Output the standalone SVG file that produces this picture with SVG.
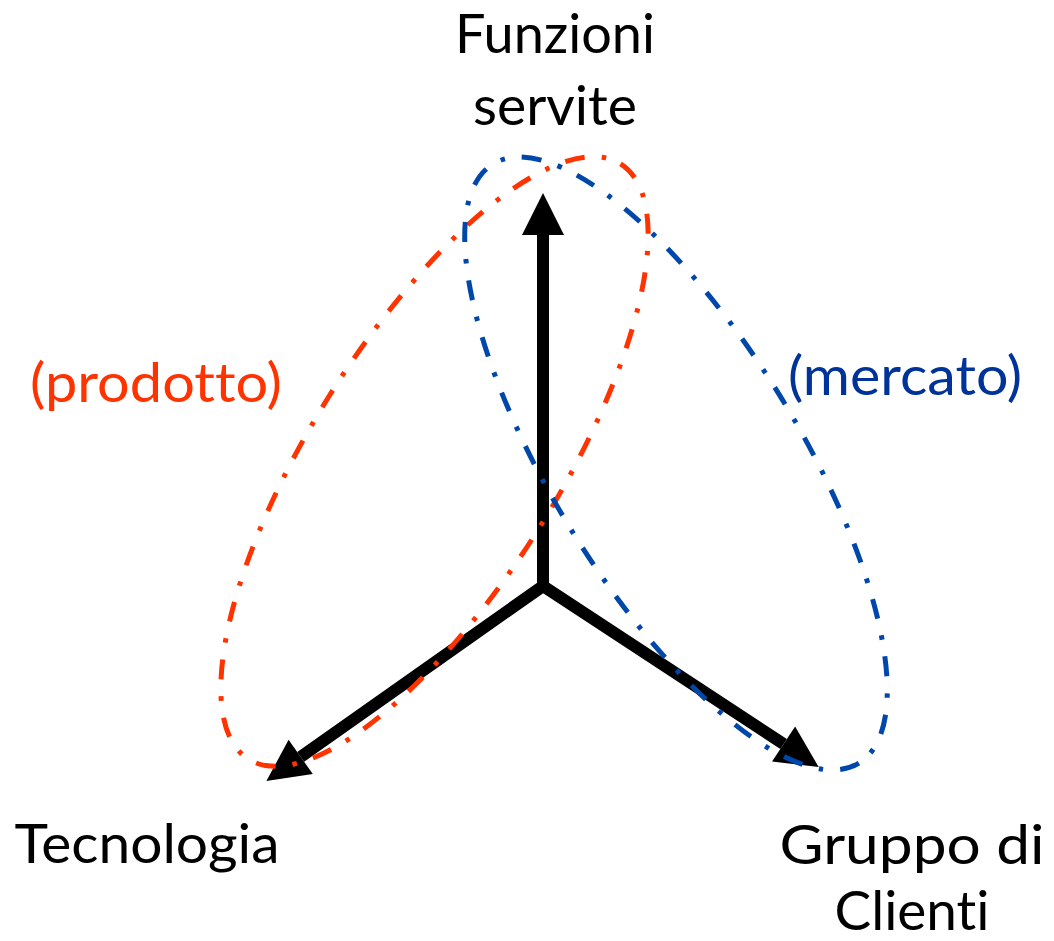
<svg xmlns="http://www.w3.org/2000/svg" width="1054" height="941" viewBox="0 0 1054 941">
  <style>
    .lbl { font-family: Lato, "Noto Sans", "Liberation Sans", sans-serif; font-size: 54px; text-anchor: middle; font-variant-ligatures: none; font-feature-settings: "liga" 0, "clig" 0; }
    .black { fill: #000000; }
    .red { fill: #FF3300; }
    .blue { fill: #003399; }
    .axis { stroke: #000000; stroke-width: 12; fill: none; stroke-linejoin: miter; stroke-linecap: butt; }
    .oval { fill: none; stroke-width: 5; stroke-dasharray: 20 17 4.5 17; stroke-linecap: butt; }
  </style>
  <defs>
    <marker id="head" markerUnits="userSpaceOnUse" markerWidth="42" markerHeight="42" refX="0" refY="20" orient="auto-start-reverse" viewBox="0 0 40 40" overflow="visible">
      <path d="M0,0 L40,20 L0,40 Z" fill="#000000"/>
    </marker>
  </defs>
  <rect width="1054" height="941" fill="#ffffff"/>
  <g id="connectors">
    <path class="axis" d="M543,586 L543,235" marker-end="url(#head)"/>
    <path class="axis" d="M300.7,756.9 L543,586 L783.6,744" marker-start="url(#head)" marker-end="url(#head)"/>
  </g>
  <g id="prodotto-oval">
    <ellipse class="oval" stroke="#FF3300" cx="434.5" cy="461.5" rx="351" ry="124" transform="rotate(-58 434.5 461.5)"/>
  </g>
  <g id="mercato-oval">
    <ellipse class="oval" stroke="#0047AB" cx="676" cy="463.5" rx="351" ry="124" transform="rotate(58.6 676 463.5)"/>
  </g>
  <g id="funzioni">
    <text class="lbl black" x="555" y="53" textLength="200" lengthAdjust="spacingAndGlyphs">Funzioni</text>
    <text class="lbl black" x="555" y="125" textLength="164" lengthAdjust="spacingAndGlyphs">servite</text>
  </g>
  <g id="prodotto">
    <text class="lbl red" x="156" y="402" textLength="252" lengthAdjust="spacingAndGlyphs">(prodotto)</text>
  </g>
  <g id="mercato">
    <text class="lbl blue" x="905" y="395" textLength="234" lengthAdjust="spacingAndGlyphs">(mercato)</text>
  </g>
  <g id="tecnologia">
    <text class="lbl black" x="147" y="863" textLength="265" lengthAdjust="spacingAndGlyphs">Tecnologia</text>
  </g>
  <g id="gruppo">
    <text class="lbl black" x="912" y="864" textLength="265" lengthAdjust="spacingAndGlyphs">Gruppo di</text>
    <text class="lbl black" x="912" y="930" textLength="155" lengthAdjust="spacingAndGlyphs">Clienti</text>
  </g>
</svg>
